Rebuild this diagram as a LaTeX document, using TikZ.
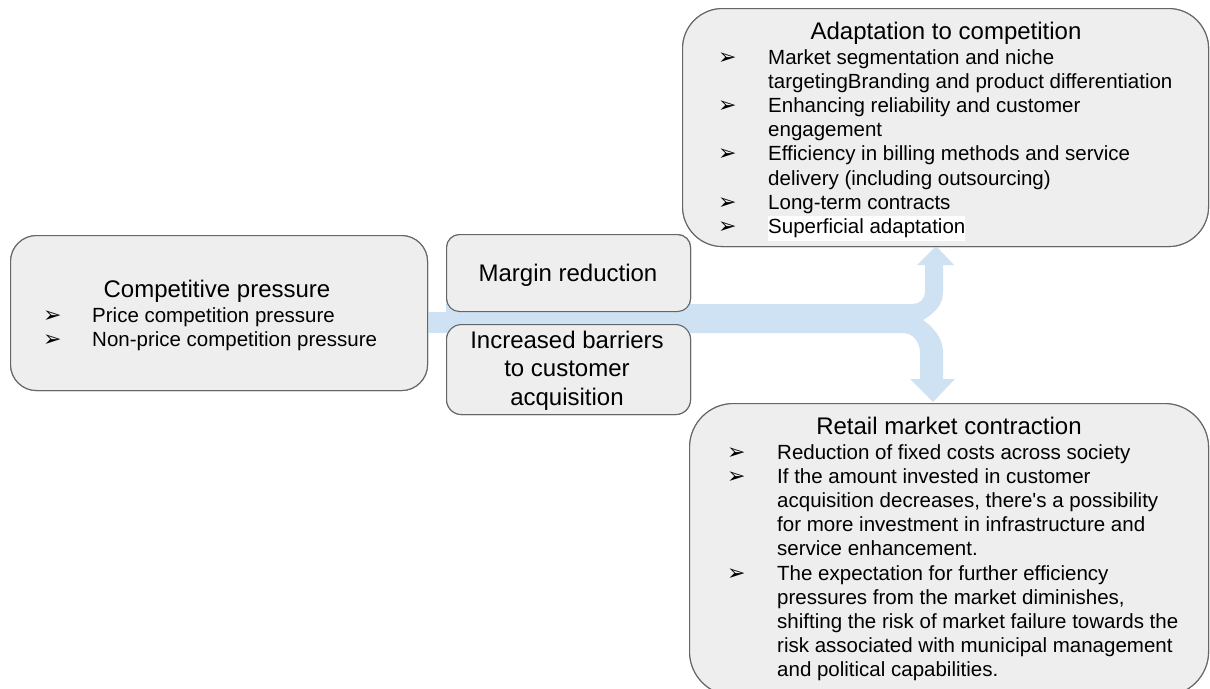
\documentclass[tikz,border=0pt]{standalone}
\usepackage{fontspec}
\setmainfont{Liberation Sans}
\newfontfamily\dingfont{DejaVu Sans}
\usepackage{array}

\definecolor{boxfill}{HTML}{EEEEEE}
\definecolor{boxline}{HTML}{666666}
\definecolor{flowblue}{HTML}{CFE2F3}

% arrow-head bullet used in every list
\newcommand\arrowbullet{{\dingfont\fontsize{22}{22}\selectfont ➢}}

\tikzset{
  panel/.style={draw=boxline, fill=boxfill, line width=1.1pt, rectangle,
    inner sep=0pt, anchor=north west},
  heading/.style={font=\fontsize{24}{28.5}\selectfont, inner sep=0pt, anchor=base},
  itemlist/.style={font=\fontsize{20.5}{24.2}\selectfont, inner sep=0pt,
    anchor=base west, align=left},
}

\begin{document}
\begin{tikzpicture}[x=1pt, y=-1pt]
  \path[use as bounding box] (0,0) rectangle (1210,688);
  \fill[white] (0,0) rectangle (1210,688);
  \clip (0,0) rectangle (1210,688);

  % panels (positions only; the flow band is drawn under them)
  \path
    node[panel, rounded corners=26pt, minimum width=417pt, minimum height=155pt] (comp) at (10,235) {}
    node[panel, rounded corners=13pt, minimum width=244pt, minimum height=77pt] (margin) at (446,234) {}
    node[panel, rounded corners=15pt, minimum width=244pt, minimum height=90pt] (barrier) at (446,324) {}
    node[panel, rounded corners=40pt, minimum width=526pt, minimum height=238pt] (adapt) at (682,8) {}
    node[panel, rounded corners=44pt, minimum width=519pt, minimum height=292pt] (retail) at (689,403) {};

  % flow band: stem from the pressure panel, forking up and down
  \fill[flowblue] (comp.east |- 0,311.5) rectangle (margin.west |- 0,333);
  \fill[flowblue]
    (margin.west |- 0,304) -- (913,304)
    .. controls (920,304) and (925,299) .. (925,291)
    -- (925,265) -- (917,265) -- (936,246) -- (954,265) -- (943,265)
    -- (943,292)
    .. controls (943,306) and (933,314) .. (923,320)
    .. controls (933,327) and (943,338) .. (943,352)
    -- (943,379) -- (955,379) -- (933,402) -- (910,379) -- (920,379)
    -- (920,353)
    .. controls (920,342) and (913,333) .. (903,333)
    -- (margin.west |- 0,333) -- cycle;

  % panels drawn again on top of the band
  \path
    node[panel, rounded corners=26pt, minimum width=417pt, minimum height=155pt] at (10,235) {}
    node[panel, rounded corners=13pt, minimum width=244pt, minimum height=77pt] at (446,234) {}
    node[panel, rounded corners=15pt, minimum width=244pt, minimum height=90pt] at (446,324) {}
    node[panel, rounded corners=40pt, minimum width=526pt, minimum height=238pt] at (682,8) {}
    node[panel, rounded corners=44pt, minimum width=519pt, minimum height=292pt] at (689,403) {};

  % competitive pressure
  \node[heading] (comp-t) at (217,297) {Competitive pressure};
  \node[itemlist] (comp-l) at (43,322) {%
    \begin{tabular}[t]{@{}p{49pt}@{}l@{}}
      \arrowbullet & Price competition pressure\\
      \arrowbullet & Non-price competition pressure
    \end{tabular}};

  % middle panels
  \node[heading] (margin-t) at (568,281) {Margin reduction};
  \node[heading, align=center] (barrier-t) at (567,405)
    {Increased barriers\\to customer\\acquisition};

  % adaptation to competition
  \node[heading] (adapt-t) at (946,39) {Adaptation to competition};
  \node[itemlist] (adapt-l) at (718,64) {%
    \setlength\fboxsep{0pt}%
    \begin{tabular}[t]{@{}p{50pt}@{}l@{}}
      \arrowbullet & Market segmentation and niche\\
                   & targetingBranding and product differentiation\\
      \arrowbullet & Enhancing reliability and customer\\
                   & engagement\\
      \arrowbullet & Efficiency in billing methods and service\\
                   & delivery (including outsourcing)\\
      \arrowbullet & Long-term contracts\\
      \arrowbullet & \colorbox{white}{\strut Superficial adaptation}
    \end{tabular}};

  % retail market contraction
  \node[heading] (retail-t) at (949,434) {Retail market contraction};
  \node[itemlist] (retail-l) at (727,459) {%
    \begin{tabular}[t]{@{}p{50pt}@{}l@{}}
      \arrowbullet & Reduction of fixed costs across society\\
      \arrowbullet & If the amount invested in customer\\
                   & acquisition decreases, there\textquotesingle s a possibility\\
                   & for more investment in infrastructure and\\
                   & service enhancement.\\
      \arrowbullet & The expectation for further efficiency\\
                   & pressures from the market diminishes,\\
                   & shifting the risk of market failure towards the\\
                   & risk associated with municipal management\\
                   & and political capabilities.
    \end{tabular}};
\end{tikzpicture}
\end{document}
